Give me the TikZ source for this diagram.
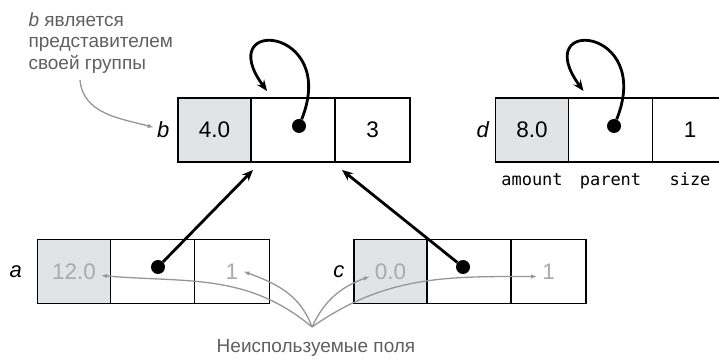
\documentclass[tikz,border=0pt]{standalone}
\usepackage{fontspec}
\setmainfont{Liberation Sans}
\setmonofont{DejaVu Sans Mono}
\usetikzlibrary{positioning,arrows.meta}
\definecolor{cellgray}{RGB}{226,227,229}
\definecolor{notegray}{RGB}{95,95,95}
\definecolor{unusedgray}{RGB}{170,170,170}
\definecolor{fangray}{RGB}{150,150,150}
\tikzset{
  cell/.style={draw,line width=1.6pt,minimum height=64pt,inner sep=0pt,outer sep=0pt},
  amt/.style={cell,fill=cellgray,minimum width=73pt},
  parcell/.style={cell,minimum width=84pt},
  sz/.style={cell,minimum width=75pt},
  val/.style={inner sep=5pt,font=\fontsize{22.5}{26}\selectfont},
  oldval/.style={val,text=unusedgray},
  tag/.style={font=\fontsize{22}{26}\selectfont\itshape},
  dot/.style={circle,fill=black,inner sep=0pt,minimum size=14pt},
  ptr/.style={line width=2.8pt,-{Stealth[length=11pt,width=9pt]}},
  note/.style={line width=1.3pt,fangray,-{Latex[length=6pt,width=4.5pt]}},
  notetext/.style={text=notegray,align=left,font=\fontsize{19}{21.5}\selectfont},
  field/.style={font=\ttfamily\fontsize{17}{20}\selectfont,text height=12pt,text depth=4pt}
}
\begin{document}
\begin{tikzpicture}[x=1pt,y=1pt]
\useasboundingbox (0,0) rectangle (719,363);
% representative b
\node[amt] (bA) at (214.5,233) {};
\node[parcell,right=0pt of bA] (bP) {};
\node[sz,right=0pt of bP] (bS) {};
\node[val] at (bA) {4.0};
\node[val] at (bS) {3};
\node[tag,left=5pt of bA] (lb) {b};
% d
\node[amt] (dA) at (532,233) {};
\node[parcell,right=0pt of dA] (dP) {};
\node[sz,right=0pt of dP] (dS) {};
\node[val] at (dA) {8.0};
\node[val] at (dS) {1};
\node[tag,left=3pt of dA] (ld) {d};
\node[field,below=7.5pt of dA] (fA) {amount};
\node[field,below=7.5pt of dP] (fP) {parent};
\node[field,below=7.5pt of dS] (fS) {size};
% a
\node[amt] (aA) at (74,91.5) {};
\node[parcell,right=0pt of aA] (aP) {};
\node[sz,right=0pt of aP] (aS) {};
\node[oldval] (aV1) at (aA) {12.0};
\node[oldval] (aV2) at (aS) {1};
\node[tag,left=12pt of aA] (la) {a};
% c
\node[amt] (cA) at (390.5,91.5) {};
\node[parcell,right=0pt of cA] (cP) {};
\node[sz,right=0pt of cP] (cS) {};
\node[oldval] (cV1) at (cA) {0.0};
\node[oldval] (cV2) at (cS) {1};
\node[tag,left=6pt of cA] (lc) {c};
% parent pointers
\node[dot] (bD) at (299,237) {};
\node[dot] (dD) at (614,237) {};
\node[dot] (aD) at (158,96) {};
\node[dot] (cD) at (463,96) {};
\coordinate (bIn) at ([shift={(16,7)}]bP.north west);
\coordinate (dIn) at ([shift={(15,7)}]dP.north west);
\coordinate (aEnd) at ([shift={(2,-8)}]bP.south west);
\coordinate (cEnd) at ([shift={(7,-8)}]bS.south west);
\draw[ptr] (bD) .. controls +(40,100) and +(-55,75) .. (bIn);
\draw[ptr] (dD) .. controls +(40,100) and +(-55,75) .. (dIn);
\draw[ptr] (aD) -- (aEnd);
\draw[ptr] (cD) -- (cEnd);
% notes
\node[notetext,anchor=north west] (rep) at (25,354) {\textit{b} является\\представителем\\своей группы};
\coordinate (repEnd) at (80,283);
\draw[note] (repEnd) to[out=-85,in=165] (lb);
\node[notetext,anchor=base] (unused) at (316,10) {Неиспользуемые поля};
\coordinate (fan) at (312,36);
\draw[note] (fan) to[out=140,in=-5] ([yshift=-4pt]aV1.east);
\draw[note] (fan) to[out=110,in=-20] (aV2.east);
\draw[note] (fan) to[out=65,in=200] ([yshift=-5pt]cV1.west);
\draw[note] (fan) to[out=35,in=180] ([yshift=-5pt]cV2.west);
\end{tikzpicture}
\end{document}
